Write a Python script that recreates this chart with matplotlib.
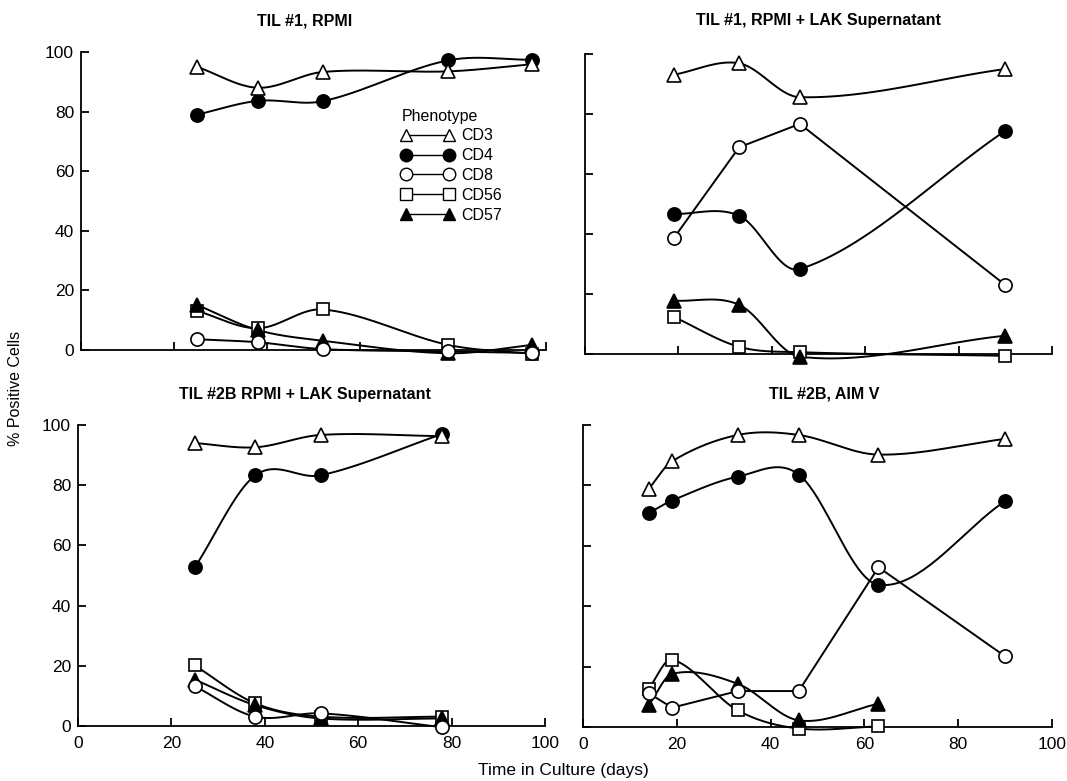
import numpy as np
import matplotlib
matplotlib.use("Agg")
import matplotlib.pyplot as plt
from matplotlib.lines import Line2D

plt.rcParams['font.family'] = ['Liberation Sans', 'DejaVu Sans']

# TIL #1, RPMI
tl_days = [25, 38, 52, 79, 97]
tl_cd3 = [95.0, 88.0, 93.3, 93.5, 95.9]
tl_cd4 = [79.0, 83.6, 83.5, 97.2, 97.4]
tl_cd8 = [3.6, 2.6, 0.3, -0.5, -1.0]
tl_cd56 = [13.1, 7.3, 13.6, 1.7, -1.3]
tl_cd57 = [15.1, 6.7, 3.1, -1.1, 1.7]

# TIL #1, RPMI + LAK Supernatant
tr_days = [19, 33, 46, 90]
tr_cd3 = [93.1, 96.9, 85.6, 95.0]
tr_cd4 = [46.7, 46.1, 28.3, 74.4]
tr_cd8 = [38.6, 68.9, 76.7, 23.0]
tr_cd56 = [12.4, 2.4, 0.6, -0.6]
tr_cd57 = [17.8, 16.4, -0.9, 6.1]

# TIL #2B RPMI + LAK Supernatant
bl_days = [25, 38, 52, 78]
bl_cd3 = [94.0, 92.6, 96.7, 96.3]
bl_cd4 = [52.7, 83.3, 83.3, 97.0]
bl_cd8 = [13.2, 3.1, 4.2, -0.4]
bl_cd56 = [20.1, 7.5, 3.1, 3.1]
bl_cd57 = [15.4, 6.9, 2.5, 2.5]

# TIL #2B, AIM V
br_days = [14, 19, 33, 46, 63, 90]
br_cd3 = [78.8, 88.0, 96.7, 96.7, 90.2, 95.4]
br_cd4 = [70.8, 75.0, 82.9, 83.6, 47.1, 74.8]
br_cd8 = [11.2, 6.4, 11.9, 11.9, 52.9, 23.4]
br_days_short = [14, 19, 33, 46, 63]
br_cd56 = [12.7, 22.3, 5.5, -0.5, 0.2]
br_cd57 = [7.2, 17.6, 14.3, 2.2, 7.7]

phenotypes = ['CD3', 'CD4', 'CD8', 'CD56', 'CD57']
titles = ['TIL #1, RPMI', 'TIL #1, RPMI + LAK Supernatant',
          'TIL #2B RPMI + LAK Supernatant', 'TIL #2B, AIM V']

# marker style per phenotype: (marker, facecolor)
styles = {'CD3': ('^', 'white'), 'CD4': ('o', 'black'), 'CD8': ('o', 'white'),
          'CD56': ('s', 'white'), 'CD57': ('^', 'black')}


def smooth(x, y, n=40):
    # cubic hermite through the points (catmull-rom style tangents)
    x = np.asarray(x, float)
    y = np.asarray(y, float)
    m = np.empty_like(y)
    m[1:-1] = (y[2:] - y[:-2]) / (x[2:] - x[:-2])
    m[0] = (y[1] - y[0]) / (x[1] - x[0])
    m[-1] = (y[-1] - y[-2]) / (x[-1] - x[-2])
    t = np.linspace(0, 1, n)
    h00 = 2*t**3 - 3*t**2 + 1
    h10 = t**3 - 2*t**2 + t
    h01 = -2*t**3 + 3*t**2
    h11 = t**3 - t**2
    xs, ys = [], []
    for i in range(len(x) - 1):
        h = x[i+1] - x[i]
        xs.append(x[i] + h*t)
        ys.append(h00*y[i] + h10*h*m[i] + h01*y[i+1] + h11*h*m[i+1])
    return np.concatenate(xs), np.concatenate(ys)


panels = [
    (tl_days, {'CD3': tl_cd3, 'CD4': tl_cd4, 'CD8': tl_cd8, 'CD56': tl_cd56, 'CD57': tl_cd57}, {}),
    (tr_days, {'CD3': tr_cd3, 'CD4': tr_cd4, 'CD8': tr_cd8, 'CD56': tr_cd56, 'CD57': tr_cd57}, {}),
    (bl_days, {'CD3': bl_cd3, 'CD4': bl_cd4, 'CD8': bl_cd8, 'CD56': bl_cd56, 'CD57': bl_cd57}, {}),
    (br_days, {'CD3': br_cd3, 'CD4': br_cd4, 'CD8': br_cd8, 'CD56': br_cd56, 'CD57': br_cd57},
     {'CD56': br_days_short, 'CD57': br_days_short}),
]
straight = {(1, 'CD8'), (3, 'CD8')}

W, H = 1067, 781
boxes = [(81, 350, 546, 52), (585, 354, 1052, 54), (78, 726, 545, 425), (583, 727, 1052, 425)]
title_pos = [(305, 21), (818, 21), (305, 394), (824, 394)]

fig = plt.figure(figsize=(W/100, H/100), dpi=100)

for k, (days, series, other_days) in enumerate(panels):
    x0, y0, x1, y1 = boxes[k]
    ax = fig.add_axes([x0/W, 1 - y0/H, (x1 - x0)/W, (y0 - y1)/H])
    for name in ['CD56', 'CD57', 'CD8', 'CD4', 'CD3']:
        xd = other_days.get(name, days)
        yd = series[name]
        if (k, name) in straight:
            sx, sy = xd, yd
        else:
            sx, sy = smooth(xd, yd)
        ax.plot(sx, sy, color='black', lw=1.4, clip_on=False, zorder=2)
        mk, fc = styles[name]
        ax.plot(xd, yd, ls='none', marker=mk, ms=9.5 if mk != 's' else 9,
                mfc=fc, mec='black', mew=1.2, clip_on=False, zorder=3)
    ax.set_xlim(0, 100)
    ax.set_ylim(0, 100)
    ax.set_xticks(np.arange(0, 101, 20))
    ax.set_yticks(np.arange(0, 101, 20))
    for s in ['top', 'right']:
        ax.spines[s].set_visible(False)
    for s in ['left', 'bottom']:
        ax.spines[s].set_linewidth(1.3)
    ax.tick_params(direction='in', length=6, width=1.3, labelsize=12.5)
    ax.tick_params(axis='x', pad=7)
    ax.tick_params(axis='y', pad=5)
    if k in (0, 1):
        ax.tick_params(axis='x', labelbottom=False)
    if k in (1, 3):
        ax.tick_params(axis='y', labelleft=False)
    tx, ty = title_pos[k]
    fig.text(tx/W, 1 - ty/H, titles[k], ha='center', va='center',
             fontsize=11.5, fontweight='bold')

    if k == 0:
        handles = []
        for name in phenotypes:
            mk, fc = styles[name]
            handles.append(Line2D([], [], color='black', lw=1.0, marker=mk,
                                  ms=9 if mk != 's' else 8.5, mfc=fc, mec='black', mew=1.0))
        ax.legend(handles, phenotypes, title='Phenotype', loc='upper left',
                  bbox_to_anchor=(0.689, 0.81), frameon=False, numpoints=2,
                  fontsize=11.5, title_fontsize=11.5, alignment='left',
                  handlelength=3.3, handletextpad=0.45, labelspacing=0.3,
                  borderpad=0, borderaxespad=0)

fig.text(16/W, 1 - 388/H, '% Positive Cells', rotation=90, ha='center', va='center', fontsize=11.5)
fig.text(563/W, 1 - 770/H, 'Time in Culture (days)', ha='center', va='center', fontsize=12.5)

fig.savefig('out.png', dpi=100)
